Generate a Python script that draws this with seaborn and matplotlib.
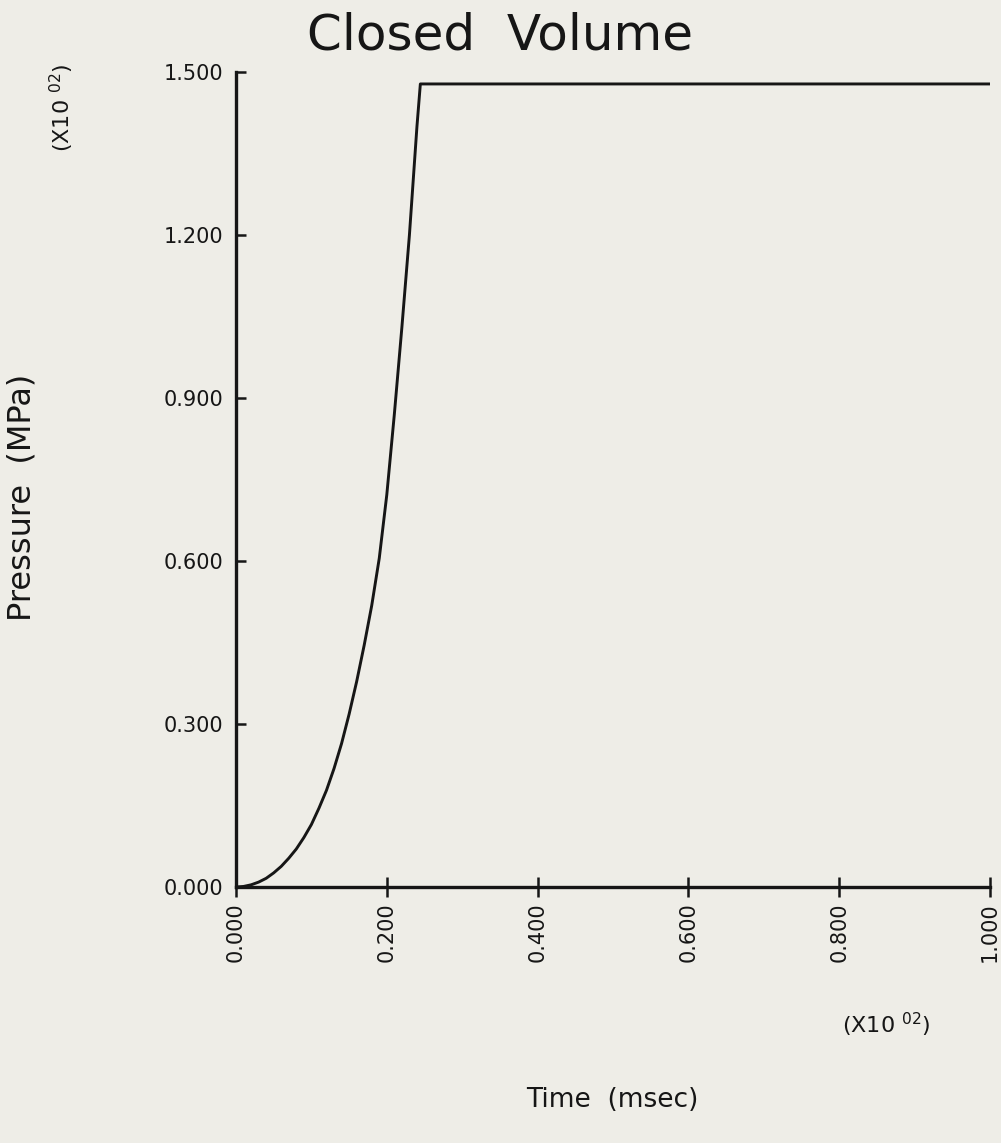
import matplotlib
matplotlib.use("Agg")
import matplotlib.pyplot as plt
import seaborn as sns
import pandas as pd

# Data (x in units of 10^2 msec, y in units of 10^2 MPa)
time_vals = [0.000, 0.010, 0.020, 0.030, 0.040, 0.050, 0.060, 0.070, 0.080, 0.090,
             0.100, 0.110, 0.120, 0.130, 0.140, 0.150, 0.160, 0.170, 0.180, 0.190,
             0.200, 0.210, 0.220, 0.230, 0.240, 0.2445, 1.000]
pressure_vals = [0.000, 0.001, 0.004, 0.009, 0.016, 0.026, 0.038, 0.053, 0.070, 0.091,
                 0.115, 0.145, 0.178, 0.218, 0.264, 0.318, 0.378, 0.445, 0.518, 0.605,
                 0.722, 0.870, 1.030, 1.200, 1.400, 1.478, 1.478]
x_ticks = [0.0, 0.2, 0.4, 0.6, 0.8, 1.0]
y_ticks = [0.0, 0.3, 0.6, 0.9, 1.2, 1.5]
x_tick_labels = ["0.000", "0.200", "0.400", "0.600", "0.800", "1.000"]
y_tick_labels = ["0.000", "0.300", "0.600", "0.900", "1.200", "1.500"]

df = pd.DataFrame({"Time": time_vals, "Pressure": pressure_vals})

sns.set_style("ticks")
plt.rcParams['font.family'] = ['DejaVu Sans']
bg = "#eeede7"
ink = "#161616"

W, H = 1001, 1143
fig = plt.figure(figsize=(W / 100, H / 100), dpi=100, facecolor=bg)
ax = fig.add_axes([236 / W, (H - 887) / H, (990 - 236) / W, (887 - 72) / H])
ax.set_facecolor(bg)

sns.lineplot(data=df, x="Time", y="Pressure", ax=ax, color=ink, linewidth=2.1,
             sort=False, estimator=None)

ax.set_xlim(0, 1.0)
ax.set_ylim(0, 1.5)
ax.set_xticks(x_ticks)
ax.set_xticklabels(x_tick_labels, rotation=90, fontsize=15, color=ink)
ax.set_yticks(y_ticks)
ax.set_yticklabels(y_tick_labels, fontsize=15, color=ink)
ax.set_yticks([y_ticks[-1]], minor=True)
ax.set_xlabel("")
ax.set_ylabel("")

for s in ["top", "right"]:
    ax.spines[s].set_visible(False)
for s in ["left", "bottom"]:
    ax.spines[s].set_linewidth(2.4)
    ax.spines[s].set_color(ink)

ax.tick_params(axis="x", direction="inout", length=14, width=1.8, pad=4, colors=ink)
ax.tick_params(axis="y", which="major", direction="in", length=7, width=1.8, pad=9, colors=ink)
ax.tick_params(axis="y", which="minor", direction="inout", length=13, width=1.8, colors=ink)

fig.text(500 / W, 1 - 36 / H, "Closed  Volume", ha="center", va="center",
         fontsize=36, color=ink)
fig.text(612 / W, 1 - 1100 / H, "Time  (msec)", ha="center", va="center",
         fontsize=19, color=ink)
fig.text(22 / W, 1 - 497 / H, "Pressure  (MPa)", ha="center", va="center",
         rotation=90, fontsize=23, color=ink)
fig.text(886 / W, 1 - 1025 / H, r"(X10 $^{02}$)", ha="center", va="center",
         fontsize=16, color=ink)
fig.text(62 / W, 1 - 108 / H, r"(X10 $^{02}$)", ha="center", va="center",
         rotation=90, fontsize=16, color=ink)

fig.savefig("out.png", dpi=100, facecolor=bg)
